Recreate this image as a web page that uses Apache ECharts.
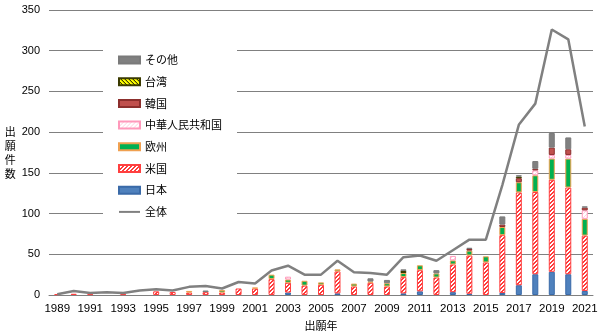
<!DOCTYPE html>
<html>
<head>
<meta charset="utf-8">
<script src="https://cdn.jsdelivr.net/npm/echarts@6/dist/echarts.min.js"></script>
<style>
  html, body { margin: 0; padding: 0; background: #fff; }
  #chart { width: 605px; height: 336px; }
</style>
</head>
<body>
<div id="chart"></div>
<script>
// Filing years
const years = ['1989','1990','1991','1992','1993','1994','1995','1996','1997','1998',
  '1999','2000','2001','2002','2003','2004','2005','2006','2007','2008',
  '2009','2010','2011','2012','2013','2014','2015','2016','2017','2018',
  '2019','2020','2021'];

// Applications by applicant region (stacked bars)
const japan  = [0,0,0,0,0,0,0,0,0,0, 0,0,0,0,3,0,0,2,0,0, 0,2,4.5,0,3.5,1.5,0,2.5,12,25.5, 28.5,25.5,5];
const usa    = [1,1.5,1,0,1,0,4.5,3.7,3,3.5, 3,8,8,19.5,12,11.5,12.5,27,10.5,15, 10.5,20,26,21.5,34,47,40,71,114,101, 113,106.5,68];
const europe = [0,0,0,0,0,0,0,0,2,0, 3,0,1,5.5,4,6,3,2.5,3.5,1.5, 4,5,6,5,5,6,7.5,10,12.5,20.5, 26,35.5,20.5];
const china  = [0,0,0,0,0,0,0,0,0,0, 0,0,0,0,3.5,0,0,0,0,0, 0,0,0,0,5.5,0,0,0,0,6, 4.5,4.5,10.5];
const korea  = [0,0,0,0,0,0,0,0,0,0, 0,0,0,0,0,0,0,0,0,0, 0,0,0,0,0,2,0,3,5,2, 9,7,3.3];
const taiwan = [0,0,0,0,0,0,0,0,0,0, 0,0,0,0,0,0,0,0,0,0, 0,2.5,0,0,0,0,0,0,2,0, 0,0,0];
const others = [0,0,0,0,0,0,0,0,0,2, 0,0,0,0,0,0,0,0,0,4, 4,2,0,4,0,1.5,0,10,1.5,9.5, 18,14.5,1.5];

// Total applications (line)
const total  = [1,5,2.5,3.5,2.5,5.5,7,5.5,10,11, 8,16,14,30,36,25,25,42,28,27, 25,46.5,48.5,42,55,68,68,135,209,235, 326,314,207];

// Y axis ticks
const yMin = 0, yMax = 350, yStep = 50;

// Small repeating fill patterns
function pattern(bg, fg, size, test) {
  const c = document.createElement('canvas');
  c.width = c.height = size;
  const g = c.getContext('2d');
  g.fillStyle = bg;
  g.fillRect(0, 0, size, size);
  g.fillStyle = fg;
  for (let x = 0; x < size; x++)
    for (let y = 0; y < size; y++)
      if (test(x, y)) g.fillRect(x, y, 1, 1);
  return { image: c, repeat: 'repeat' };
}

const usFill = pattern('#ffffff', '#ff3b3b', 4, (x, y) => (x + y) % 4 < 2);
const cnFill = pattern('#ffffff', '#ffd0e0', 4, (x, y) => (x + y) % 4 === 0);
const twFill = pattern('#ffff00', '#000000', 4, (x, y) => (x + 3 - y) % 4 === 0);

const nz = arr => arr.map(v => (v ? v : null));

function barSeries(name, data, itemStyle) {
  return { name, type: 'bar', stack: 'total', data: nz(data), barWidth: 6, itemStyle };
}

const numFont = "'Liberation Sans', 'Noto Sans CJK JP', sans-serif";
const cjkFont = "'Noto Sans CJK JP', sans-serif";

const barNames = ['その他', '台湾', '韓国', '中華人民共和国', '欧州', '米国', '日本'];

const chart = echarts.init(document.getElementById('chart'), null, { renderer: 'canvas' });
chart.setOption({
  animation: false,
  grid: { left: 49, right: 12, top: 10, bottom: 41, containLabel: false, outerBoundsMode: 'none' },
  legend: {
    orient: 'vertical',
    left: 103, top: 45,
    padding: [8, 15, 6, 15],
    backgroundColor: '#ffffff',
    itemWidth: 21, itemHeight: 7, itemGap: 7.7,
    textStyle: { fontSize: 11, lineHeight: 14, color: '#000', fontFamily: cjkFont },
    data: barNames.map(n => ({ name: n, icon: 'rect' }))
      .concat([{ name: '全体', itemStyle: { opacity: 0 } }])
  },
  xAxis: {
    type: 'category',
    data: years,
    name: '出願年',
    nameLocation: 'middle',
    nameGap: 25,
    nameTextStyle: { fontSize: 11, color: '#000', fontFamily: cjkFont },
    axisLine: { lineStyle: { color: '#808080', width: 1 } },
    axisTick: { show: false },
    axisLabel: { interval: 1, fontSize: 11.5, color: '#000', fontFamily: numFont, margin: 8 }
  },
  yAxis: {
    type: 'value',
    min: yMin, max: yMax, interval: yStep,
    name: '出\n願\n件\n数',
    nameLocation: 'middle',
    nameRotate: 0,
    nameGap: 31,
    nameTextStyle: { fontSize: 11, lineHeight: 14, color: '#000', fontFamily: cjkFont },
    axisLine: { show: false },
    axisTick: { show: false },
    axisLabel: { fontSize: 11, color: '#000', fontFamily: numFont, margin: 9 },
    splitLine: { lineStyle: { color: '#808080', width: 1 } }
  },
  series: [
    barSeries('日本', japan, { color: '#4f81bd', borderColor: '#3a6aa8', borderWidth: 1 }),
    barSeries('米国', usa, { color: usFill, borderColor: '#ff4040', borderWidth: 1 }),
    barSeries('欧州', europe, { color: '#00b050', borderColor: '#f0a050', borderWidth: 1 }),
    barSeries('中華人民共和国', china, { color: cnFill, borderColor: '#ff99bb', borderWidth: 1 }),
    barSeries('韓国', korea, { color: '#c0504d', borderColor: '#8c2f2d', borderWidth: 1 }),
    barSeries('台湾', taiwan, { color: twFill, borderColor: '#3a3a00', borderWidth: 1 }),
    barSeries('その他', others, { color: '#808080', borderColor: '#7a7a7a', borderWidth: 1 }),
    {
      name: '全体', type: 'line', data: total,
      symbol: 'none',
      lineStyle: { color: '#808080', width: 2.5 },
      itemStyle: { color: '#808080' },
      z: 5
    }
  ]
});
</script>
</body>
</html>
